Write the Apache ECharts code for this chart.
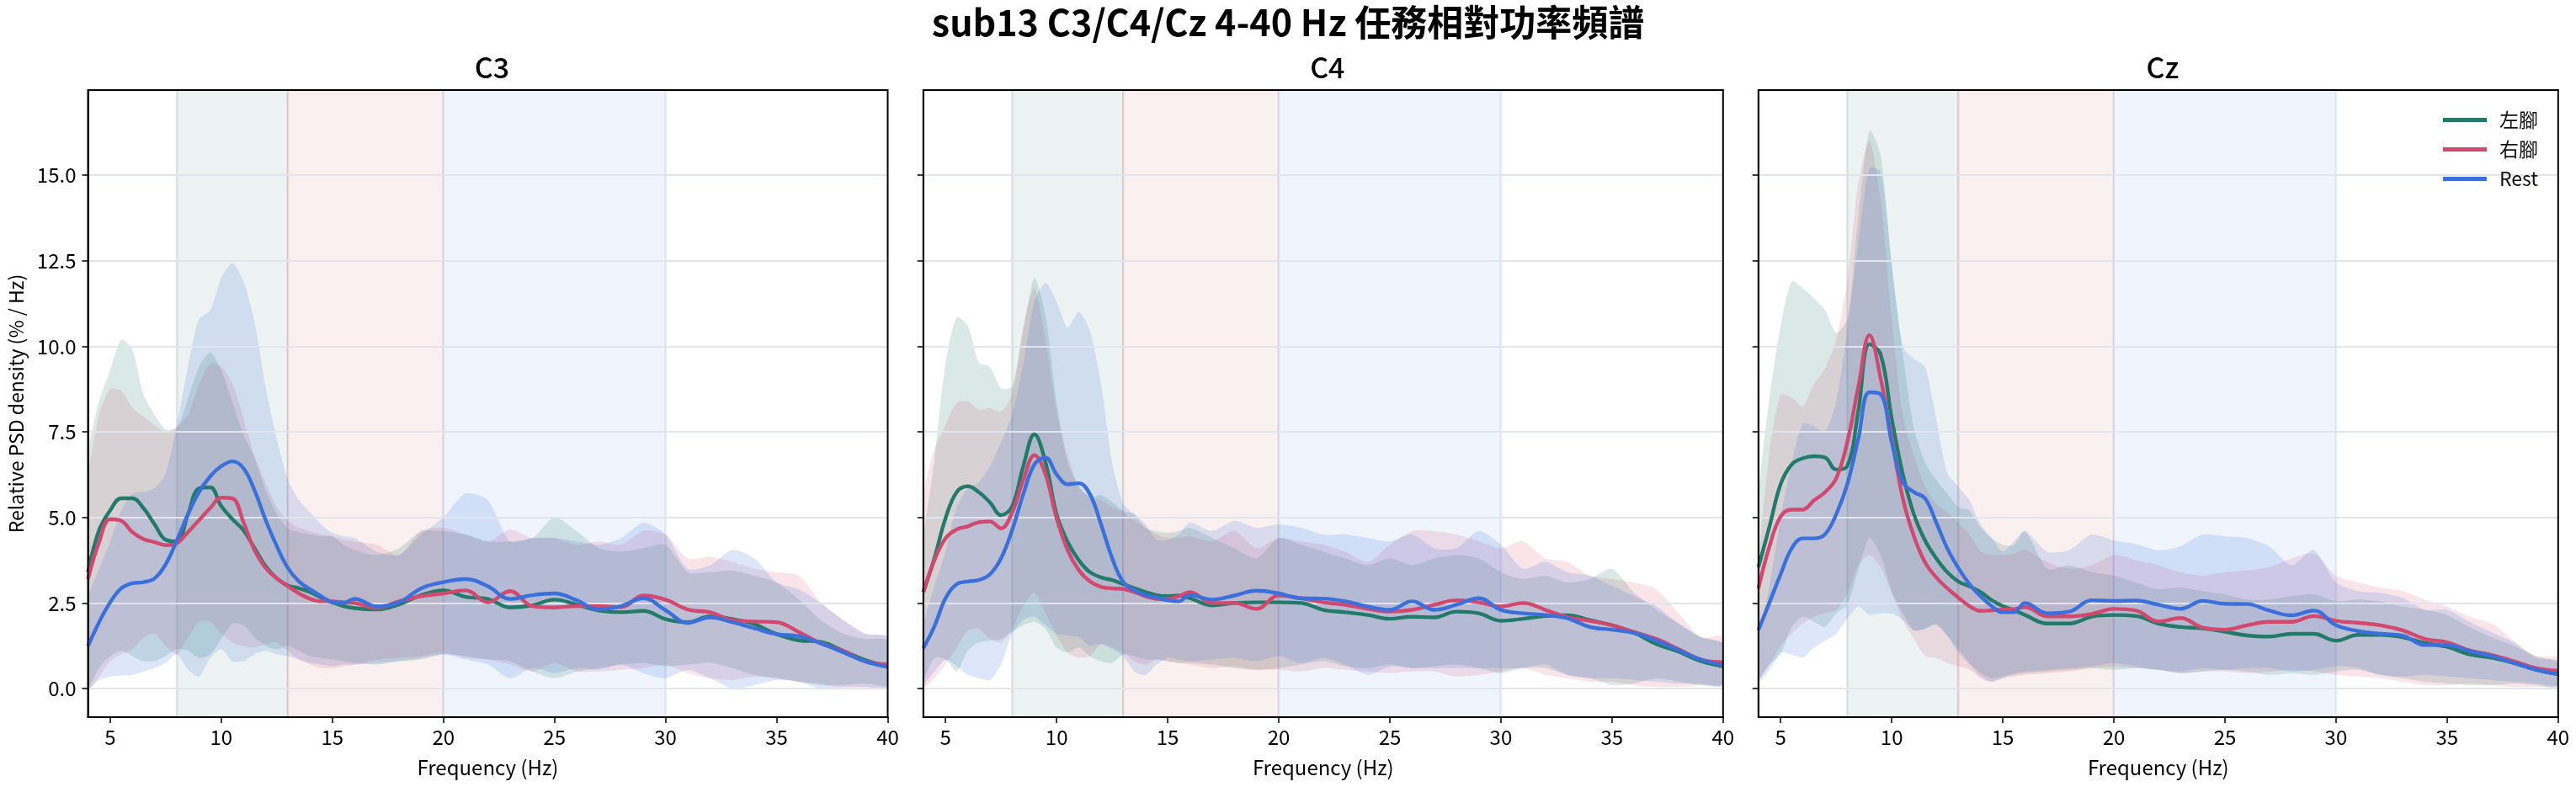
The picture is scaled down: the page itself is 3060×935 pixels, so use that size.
<!DOCTYPE html>
<html>
<head>
<meta charset="utf-8">
<script src="https://cdn.jsdelivr.net/npm/echarts@6/dist/echarts.min.js"></script>
<style>
  html, body { margin: 0; padding: 0; background: #fff; }
  #main { width: 3060px; height: 935px; }
</style>
</head>
<body>
<div id="main"></div>
<script>
// frequency grid (Hz): 0.5 Hz steps up to 16, then 1 Hz
const FREQ = [4, 4.5, 5, 5.5, 6, 6.5, 7, 7.5, 8, 8.5, 9, 9.5, 10, 10.5, 11, 11.5, 12, 12.5, 13, 13.5, 14, 14.5, 15, 15.5, 16,
  17, 18, 19, 20, 21, 22, 23, 24, 25, 26, 27, 28, 29, 30, 31, 32, 33, 34, 35, 36, 37, 38, 39, 40];

const CONDITIONS = ['左腳', '右腳', 'Rest'];
const X_TICKS = [5, 10, 15, 20, 25, 30, 35, 40];
const Y_TICKS = [0, 2.5, 5, 7.5, 10, 12.5, 15];
const BANDS = [[8, 13], [13, 20], [20, 30]];

// ---- C3 ----
const C3_LEFT = [3.40, 4.63, 5.21, 5.56, 5.56, 5.27, 4.80, 4.35, 4.30, 5.09, 5.85, 5.88, 5.33, 4.95, 4.63, 4.10, 3.57, 3.22, 3.01, 2.93, 2.82, 2.66, 2.52, 2.41, 2.35,
  2.31, 2.46, 2.73, 2.87, 2.68, 2.62, 2.37, 2.43, 2.60, 2.45, 2.28, 2.23, 2.27, 2.03, 1.94, 2.11, 2.03, 1.88, 1.59, 1.41, 1.36, 1.10, 0.83, 0.65];
const C3_RIGHT = [3.20, 4.28, 4.95, 4.90, 4.57, 4.37, 4.28, 4.19, 4.25, 4.57, 4.92, 5.27, 5.58, 5.56, 4.86, 4.04, 3.52, 3.22, 2.99, 2.78, 2.62, 2.55, 2.55, 2.52, 2.50,
  2.35, 2.55, 2.70, 2.78, 2.87, 2.52, 2.85, 2.41, 2.37, 2.41, 2.41, 2.38, 2.72, 2.60, 2.31, 2.23, 2.00, 1.96, 1.94, 1.65, 1.32, 1.10, 0.79, 0.71];
const C3_REST = [1.24, 1.94, 2.52, 2.93, 3.08, 3.11, 3.22, 3.63, 4.33, 5.09, 5.74, 6.20, 6.50, 6.64, 6.44, 5.79, 4.92, 4.16, 3.52, 3.13, 2.90, 2.70, 2.52, 2.50, 2.62,
  2.40, 2.52, 2.93, 3.11, 3.20, 2.99, 2.62, 2.73, 2.78, 2.58, 2.31, 2.41, 2.64, 2.29, 1.92, 2.08, 1.94, 1.76, 1.59, 1.53, 1.32, 1.06, 0.79, 0.63];

const C3_LEFT_HI = [6.8, 8.4, 9.3, 10.2, 9.9, 8.6, 8.0, 7.57, 7.6, 8.48, 9.4, 9.82, 9.3, 8.36, 7.43, 6.73, 5.8, 5.1, 4.68, 4.57, 4.5, 4.45, 4.45, 4.2, 4.05,
  3.9, 4.1, 4.6, 4.6, 4.5, 4.3, 4.3, 4.4, 5.0, 4.6, 4.1, 4.0, 4.1, 4.2, 3.4, 3.4, 3.45, 3.3, 3.1, 2.6, 2.0, 1.6, 1.45, 1.4];
const C3_LEFT_LO = [0.05, 0.6, 0.95, 1.1, 0.95, 0.8, 0.8, 0.95, 1.15, 1.1, 0.9, 1.0, 1.45, 1.9, 1.85, 1.5, 1.25, 1.15, 1.25, 1.1, 0.95, 0.9, 0.85, 0.8, 0.75,
  0.7, 0.8, 0.85, 1.0, 0.95, 0.85, 0.8, 0.5, 0.3, 0.5, 0.6, 0.7, 0.75, 0.65, 0.7, 0.75, 0.6, 0.4, 0.3, 0.2, 0.1, 0.1, 0.15, 0.1];
const C3_RIGHT_HI = [6.0, 8.0, 8.75, 8.7, 8.2, 7.95, 7.7, 7.5, 7.65, 8.0, 8.9, 9.5, 9.4, 8.9, 7.9, 6.8, 6.0, 5.3, 4.9, 4.7, 4.6, 4.5, 4.45, 4.35, 4.3,
  4.2, 3.9, 4.6, 4.7, 4.5, 4.3, 4.65, 4.4, 4.4, 4.2, 4.3, 4.2, 4.6, 4.5, 3.8, 3.85, 3.7, 3.5, 3.4, 3.3, 2.5, 2.0, 1.6, 1.5];
const C3_RIGHT_LO = [0.0, 0.35, 0.8, 1.0, 1.15, 1.5, 1.6, 1.25, 1.0, 1.5, 1.95, 1.95, 1.6, 1.35, 1.25, 1.2, 1.3, 1.35, 1.1, 0.85, 0.7, 0.6, 0.6, 0.65, 0.7,
  0.85, 0.9, 0.95, 1.05, 0.9, 0.85, 0.7, 0.5, 0.75, 0.5, 0.5, 0.55, 0.6, 0.7, 0.45, 0.3, 0.25, 0.35, 0.3, 0.2, 0.15, 0.0, 0.0, 0.05];
const C3_REST_HI = [2.6, 3.5, 4.3, 5.2, 5.7, 5.75, 5.85, 6.3, 7.7, 9.4, 10.8, 11.05, 12.0, 12.43, 11.9, 10.7, 8.8, 7.3, 6.1, 5.5, 5.15, 4.8, 4.55, 4.45, 4.4,
  4.0, 3.9, 4.5, 5.0, 5.7, 5.5, 4.3, 4.4, 4.4, 4.3, 4.2, 4.4, 4.85, 4.5, 3.5, 3.6, 4.05, 3.8, 3.1, 2.9, 2.5, 2.0, 1.6, 1.5];
const C3_REST_LO = [0.0, 0.25, 0.35, 0.38, 0.4, 0.5, 0.6, 0.75, 1.0, 0.55, 0.35, 0.9, 1.15, 0.8, 0.8, 1.0, 1.1, 1.0, 0.95, 0.85, 0.75, 0.7, 0.65, 0.7, 0.7,
  0.75, 0.8, 0.9, 1.0, 0.85, 0.7, 0.3, 0.6, 0.45, 0.6, 0.55, 0.7, 0.45, 0.3, 0.55, 0.3, 0.0, 0.1, 0.25, 0.2, 0.0, 0.05, 0.05, 0.05];

// ---- C4 ----
const C4_LEFT = [2.82, 3.81, 4.98, 5.74, 5.91, 5.74, 5.44, 5.07, 5.33, 6.50, 7.43, 6.61, 5.09, 4.28, 3.75, 3.40, 3.25, 3.17, 3.05, 2.93, 2.82, 2.73, 2.70, 2.72, 2.64,
  2.43, 2.50, 2.52, 2.52, 2.50, 2.30, 2.23, 2.15, 2.04, 2.10, 2.08, 2.25, 2.20, 1.98, 2.04, 2.12, 2.14, 2.00, 1.85, 1.63, 1.30, 1.08, 0.80, 0.65];
const C4_RIGHT = [2.82, 3.75, 4.39, 4.65, 4.74, 4.86, 4.88, 4.68, 5.15, 6.10, 6.82, 6.26, 4.98, 4.04, 3.46, 3.13, 2.97, 2.93, 2.91, 2.82, 2.70, 2.62, 2.62, 2.70, 2.82,
  2.50, 2.50, 2.33, 2.72, 2.64, 2.52, 2.45, 2.33, 2.25, 2.30, 2.45, 2.58, 2.52, 2.40, 2.50, 2.30, 2.08, 1.98, 1.85, 1.65, 1.45, 1.15, 0.85, 0.77];
const C4_REST = [1.18, 1.82, 2.64, 3.05, 3.13, 3.17, 3.34, 3.81, 4.63, 5.68, 6.55, 6.75, 6.26, 5.97, 6.00, 5.68, 4.80, 3.81, 3.11, 2.87, 2.73, 2.66, 2.58, 2.55, 2.73,
  2.60, 2.72, 2.86, 2.78, 2.64, 2.63, 2.55, 2.40, 2.30, 2.55, 2.30, 2.45, 2.64, 2.30, 2.20, 2.15, 2.05, 1.80, 1.72, 1.62, 1.40, 1.12, 0.85, 0.68];

const C4_LEFT_HI = [4.2, 6.7, 9.5, 10.85, 10.6, 9.53, 9.4, 8.77, 8.83, 10.47, 12.0, 10.9, 8.36, 6.6, 5.9, 5.6, 5.65, 5.45, 5.2, 5.1, 4.7, 4.6, 4.55, 4.6, 4.7,
  4.4, 4.1, 3.8, 4.4, 4.2, 4.0, 3.8, 3.6, 3.8, 3.6, 3.8, 3.9, 3.8, 3.4, 3.2, 3.3, 3.1, 3.2, 3.5, 2.8, 2.3, 1.9, 1.5, 1.3];
const C4_LEFT_LO = [0.3, 0.9, 0.85, 0.5, 1.1, 1.35, 1.4, 1.45, 1.65, 1.85, 1.95, 1.75, 1.2, 1.05, 1.2, 0.95, 0.8, 0.75, 1.0, 0.95, 0.85, 0.85, 0.8, 0.75, 0.75,
  0.7, 0.6, 0.55, 0.6, 0.7, 0.8, 0.65, 0.6, 0.7, 0.6, 0.65, 0.7, 0.6, 0.45, 0.6, 0.6, 0.4, 0.3, 0.1, 0.15, 0.3, 0.2, 0.1, 0.1];
const C4_RIGHT_HI = [5.5, 7.0, 7.7, 8.35, 8.4, 8.15, 8.2, 8.1, 8.6, 10.6, 11.7, 10.2, 8.1, 6.8, 5.9, 5.6, 5.5, 5.3, 5.15, 4.9, 4.7, 4.5, 4.4, 4.4, 4.45,
  4.3, 4.6, 4.1, 4.4, 4.3, 4.2, 4.0, 3.7, 4.2, 4.6, 4.6, 4.5, 4.3, 4.1, 4.3, 3.8, 3.7, 3.3, 3.2, 3.1, 2.9, 2.2, 1.5, 1.5];
const C4_RIGHT_LO = [0.05, 0.3, 0.7, 1.2, 1.7, 1.75, 1.45, 1.35, 1.75, 2.4, 2.8, 2.2, 1.55, 1.05, 0.9, 0.95, 1.3, 1.2, 1.05, 0.8, 0.7, 0.85, 0.8, 0.75, 0.7,
  0.6, 0.65, 0.55, 0.55, 0.5, 0.6, 0.55, 0.5, 0.45, 0.5, 0.5, 0.35, 0.4, 0.5, 0.6, 0.4, 0.3, 0.2, 0.2, 0.1, 0.05, 0.05, 0.1, 0.15];
const C4_REST_HI = [1.8, 3.0, 4.0, 5.3, 5.85, 6.03, 6.5, 7.2, 8.0, 9.5, 11.3, 11.85, 11.3, 10.55, 11.0, 10.45, 8.9, 6.6, 5.4, 5.1, 4.8, 4.35, 4.35, 4.5, 4.85,
  4.6, 4.9, 4.7, 4.8, 4.7, 4.5, 4.5, 4.4, 4.3, 4.5, 4.1, 4.1, 4.6, 4.2, 3.5, 3.7, 3.4, 3.3, 3.0, 2.7, 2.4, 1.9, 1.5, 1.3];
const C4_REST_LO = [0.15, 0.5, 0.85, 0.65, 0.4, 0.3, 0.25, 0.7, 1.6, 2.0, 2.1, 1.85, 1.6, 1.55, 1.5, 1.25, 1.3, 1.15, 0.95, 0.5, 0.4, 0.7, 0.9, 0.85, 0.8,
  0.85, 0.9, 0.8, 0.95, 0.75, 0.9, 0.7, 0.4, 0.65, 0.6, 0.6, 0.6, 0.6, 0.6, 0.6, 0.7, 0.4, 0.3, 0.3, 0.25, 0.2, 0.15, 0.15, 0.1];

// ---- Cz ----
const CZ_LEFT = [3.55, 4.74, 5.97, 6.55, 6.73, 6.79, 6.75, 6.40, 6.50, 8.13, 10.06, 9.77, 7.90, 6.26, 5.09, 4.33, 3.81, 3.40, 3.13, 2.99, 2.82, 2.58, 2.41, 2.29, 2.15,
  1.90, 1.90, 2.10, 2.15, 2.12, 1.90, 1.80, 1.76, 1.66, 1.55, 1.52, 1.60, 1.60, 1.40, 1.57, 1.57, 1.50, 1.33, 1.22, 1.00, 0.90, 0.75, 0.55, 0.42];
const CZ_RIGHT = [2.93, 4.16, 5.03, 5.23, 5.23, 5.50, 5.74, 6.14, 7.20, 8.83, 10.33, 9.07, 7.31, 5.56, 4.45, 3.69, 3.25, 2.93, 2.66, 2.41, 2.27, 2.29, 2.31, 2.32, 2.38,
  2.11, 2.11, 2.18, 2.33, 2.28, 1.96, 2.06, 1.78, 1.72, 1.85, 1.95, 1.95, 2.12, 1.98, 1.92, 1.85, 1.70, 1.45, 1.35, 1.12, 0.98, 0.80, 0.60, 0.52];
const CZ_REST = [1.71, 2.52, 3.34, 4.10, 4.39, 4.39, 4.51, 5.09, 5.97, 7.31, 8.66, 8.60, 7.20, 6.03, 5.74, 5.56, 4.86, 4.10, 3.52, 3.05, 2.70, 2.41, 2.23, 2.23, 2.50,
  2.20, 2.25, 2.58, 2.56, 2.57, 2.45, 2.33, 2.56, 2.48, 2.47, 2.28, 2.14, 2.28, 1.85, 1.68, 1.60, 1.55, 1.27, 1.27, 1.10, 0.95, 0.75, 0.55, 0.42];

const CZ_LEFT_HI = [5.5, 8.5, 10.6, 11.9, 11.7, 11.4, 11.05, 10.4, 10.8, 13.8, 16.3, 15.6, 12.4, 9.8, 7.6, 6.6, 6.1, 5.7, 5.3, 5.2, 4.7, 4.4, 4.2, 4.2, 4.6,
  3.5, 3.6, 3.4, 3.3, 3.1, 2.9, 2.95, 2.85, 2.75, 2.6, 2.6, 2.7, 2.75, 2.55, 2.6, 2.55, 2.4, 2.3, 2.15, 1.8, 1.5, 1.25, 0.95, 0.75];
const CZ_LEFT_LO = [0.3, 0.7, 1.0, 1.8, 2.1, 1.95, 1.8, 2.2, 2.45, 3.5, 4.4, 3.9, 2.85, 2.2, 1.7, 1.75, 1.85, 1.55, 1.15, 0.75, 0.45, 0.3, 0.35, 0.4, 0.45,
  0.5, 0.55, 0.6, 0.55, 0.6, 0.55, 0.45, 0.5, 0.55, 0.5, 0.4, 0.45, 0.4, 0.5, 0.55, 0.4, 0.3, 0.2, 0.15, 0.1, 0.1, 0.15, 0.1, 0.05];
const CZ_RIGHT_HI = [3.5, 6.9, 8.6, 8.5, 8.25, 8.9, 9.35, 10.2, 11.9, 14.8, 16.0, 14.3, 10.8, 8.0, 6.8, 5.9, 5.4, 5.15, 4.85, 4.5, 4.0, 3.9, 3.9, 3.95, 4.05,
  3.7, 3.5, 3.6, 3.9, 3.75, 3.6, 3.4, 3.3, 3.4, 3.45, 3.55, 3.8, 3.95, 3.3, 3.1, 2.95, 2.85, 2.6, 2.4, 2.1, 1.9, 1.4, 0.95, 0.9];
const CZ_RIGHT_LO = [0.3, 0.7, 1.25, 1.6, 1.9, 2.1, 2.2, 2.3, 2.76, 3.6, 3.9, 3.55, 2.8, 2.0, 1.45, 0.95, 0.9, 0.75, 0.65, 0.55, 0.3, 0.2, 0.3, 0.35, 0.4,
  0.45, 0.5, 0.6, 0.65, 0.6, 0.55, 0.45, 0.5, 0.5, 0.45, 0.5, 0.55, 0.5, 0.4, 0.35, 0.3, 0.2, 0.1, 0.1, 0.15, 0.1, 0.05, 0.05, 0.1];
const CZ_REST_HI = [1.5, 3.0, 5.0, 6.6, 7.75, 7.66, 7.5, 8.4, 10.47, 13.0, 15.2, 15.1, 12.4, 10.0, 9.63, 9.4, 7.9, 6.3, 5.9, 5.5, 4.8, 4.4, 4.0, 4.3, 4.6,
  4.0, 4.05, 4.5, 4.33, 4.22, 4.04, 4.16, 4.5, 4.45, 4.4, 4.15, 3.6, 4.05, 3.1, 2.85, 2.8, 2.65, 2.3, 2.3, 1.95, 1.65, 1.35, 0.9, 0.8];
const CZ_REST_LO = [0.2, 0.55, 1.05, 1.0, 0.9, 1.2, 1.4, 1.6, 2.05, 2.4, 2.15, 2.2, 2.2, 2.0, 1.7, 1.75, 1.9, 1.55, 1.05, 0.7, 0.35, 0.2, 0.3, 0.45, 0.5,
  0.55, 0.6, 0.65, 0.75, 0.65, 0.55, 0.5, 0.6, 0.55, 0.6, 0.6, 0.5, 0.55, 0.65, 0.6, 0.4, 0.35, 0.4, 0.35, 0.3, 0.25, 0.2, 0.15, 0.1];

const PANELS = [
  { title: 'C3', mean: [C3_LEFT, C3_RIGHT, C3_REST], lo: [C3_LEFT_LO, C3_RIGHT_LO, C3_REST_LO], hi: [C3_LEFT_HI, C3_RIGHT_HI, C3_REST_HI] },
  { title: 'C4', mean: [C4_LEFT, C4_RIGHT, C4_REST], lo: [C4_LEFT_LO, C4_RIGHT_LO, C4_REST_LO], hi: [C4_LEFT_HI, C4_RIGHT_HI, C4_REST_HI] },
  { title: 'Cz', mean: [CZ_LEFT, CZ_RIGHT, CZ_REST], lo: [CZ_LEFT_LO, CZ_RIGHT_LO, CZ_REST_LO], hi: [CZ_LEFT_HI, CZ_RIGHT_HI, CZ_REST_HI] }
];

const COLORS = ['#237a69', '#d2486e', '#3b70dc'];
const FILLS = ['rgba(35,122,105,0.17)', 'rgba(210,72,110,0.15)', 'rgba(59,112,220,0.17)'];
const BAND_FILL = ['#edf3f2', '#f9f0ef', '#f0f4fd'];
const BAND_EDGE = ['rgba(120,150,145,0.22)', 'rgba(170,130,135,0.22)', 'rgba(150,170,225,0.22)'];
const FONT = "'Noto Sans CJK TC', 'Noto Sans', sans-serif";

const Y_MIN = -0.835, Y_MAX = 17.49;
const GRID_LEFT = [104.5, 1096.8, 2088.8];
const GRID_TOP = 107, GRID_W = 950, GRID_H = 745;

const chart = echarts.init(document.getElementById('main'), null, { renderer: 'canvas' });

const grids = [], xAxes = [], yAxes = [], titles = [], series = [];

titles.push({
  text: 'sub13 C3/C4/Cz 4-40 Hz 任務相對功率頻譜',
  left: 'center', top: 0,
  textStyle: { fontSize: 43, fontWeight: 'bold', color: '#000', fontFamily: FONT }
});

PANELS.forEach((p, k) => {
  grids.push({
    left: GRID_LEFT[k], top: GRID_TOP, width: GRID_W, height: GRID_H,
    show: true, borderColor: '#000', borderWidth: 2, backgroundColor: 'transparent', z: 10
  });
  titles.push({
    text: p.title, left: GRID_LEFT[k] + GRID_W / 2, top: 58, textAlign: 'center',
    textStyle: { fontSize: 34, fontWeight: 500, color: '#000', fontFamily: FONT }
  });
  xAxes.push({
    type: 'value', gridIndex: k, min: 4, max: 40, z: 4,
    axisLine: { show: true, onZero: false, lineStyle: { color: '#000', width: 2 } },
    axisTick: { show: true, length: 7, customValues: X_TICKS, lineStyle: { color: '#000', width: 1.5 } },
    axisLabel: { customValues: X_TICKS, fontSize: 24, color: '#000', margin: 12, fontFamily: FONT },
    splitLine: { show: false },
    name: 'Frequency (Hz)', nameLocation: 'middle', nameGap: 48,
    nameTextStyle: { fontSize: 24, color: '#000', fontFamily: FONT }
  });
  yAxes.push({
    type: 'value', gridIndex: k, min: Y_MIN, max: Y_MAX, z: 2,
    axisLine: { show: true, onZero: false, lineStyle: { color: '#000', width: 2 } },
    axisTick: { show: true, length: 7, customValues: Y_TICKS, lineStyle: { color: '#000', width: 1.5 } },
    axisLabel: { show: k === 0, customValues: Y_TICKS, formatter: v => v.toFixed(1), fontSize: 24, color: '#000', margin: 14, fontFamily: FONT },
    splitLine: { show: true, lineStyle: { color: '#e1e5ee', width: 2 } },
    name: k === 0 ? 'Relative PSD density (% / Hz)' : '', nameLocation: 'middle', nameGap: 74,
    nameTextStyle: { fontSize: 23, color: '#000', fontFamily: FONT }
  });

  // frequency band shading
  series.push({
    type: 'custom', xAxisIndex: k, yAxisIndex: k, z: 0, silent: true, clip: true,
    data: BANDS,
    renderItem: (params, api) => {
      const a = api.coord([api.value(0), Y_MAX]);
      const b = api.coord([api.value(1), Y_MIN]);
      return {
        type: 'rect',
        shape: { x: a[0], y: a[1], width: b[0] - a[0], height: b[1] - a[1] },
        style: { fill: BAND_FILL[params.dataIndex], stroke: BAND_EDGE[params.dataIndex], lineWidth: 2.5 }
      };
    }
  });

  // mean ± sd envelopes
  p.mean.forEach((m, c) => {
    const lo = p.lo[c], hi = p.hi[c];
    series.push({
      type: 'custom', xAxisIndex: k, yAxisIndex: k, z: 1, silent: true, clip: true,
      data: FREQ.map((f, i) => [f, lo[i], hi[i]]),
      encode: { x: 0, y: [1, 2] },
      renderItem: (params, api) => {
        if (params.dataIndex !== 0) return null;
        const pts = [];
        FREQ.forEach((f, i) => pts.push(api.coord([f, hi[i]])));
        for (let i = FREQ.length - 1; i >= 0; i--) pts.push(api.coord([FREQ[i], lo[i]]));
        return { type: 'polygon', shape: { points: pts, smooth: 0.25 }, style: { fill: FILLS[c] } };
      }
    });
  });

  // mean curves
  p.mean.forEach((m, c) => {
    series.push({
      name: CONDITIONS[c], type: 'line', xAxisIndex: k, yAxisIndex: k, z: 3,
      data: FREQ.map((f, i) => [f, m[i]]),
      smooth: 0.4, showSymbol: false, symbol: 'none',
      lineStyle: { color: COLORS[c], width: 4.4 },
      itemStyle: { color: COLORS[c] }
    });
  });
});

chart.setOption({
  animation: false,
  backgroundColor: '#fff',
  textStyle: { fontFamily: FONT },
  title: titles,
  grid: grids,
  xAxis: xAxes,
  yAxis: yAxes,
  legend: {
    data: CONDITIONS, orient: 'vertical', right: 40, top: 126,
    icon: 'rect', itemWidth: 52, itemHeight: 5, itemGap: 12,
    textStyle: { fontSize: 23, color: '#111', fontFamily: FONT, padding: [0, 0, 0, 10] }
  },
  series: series
});
</script>
</body>
</html>
